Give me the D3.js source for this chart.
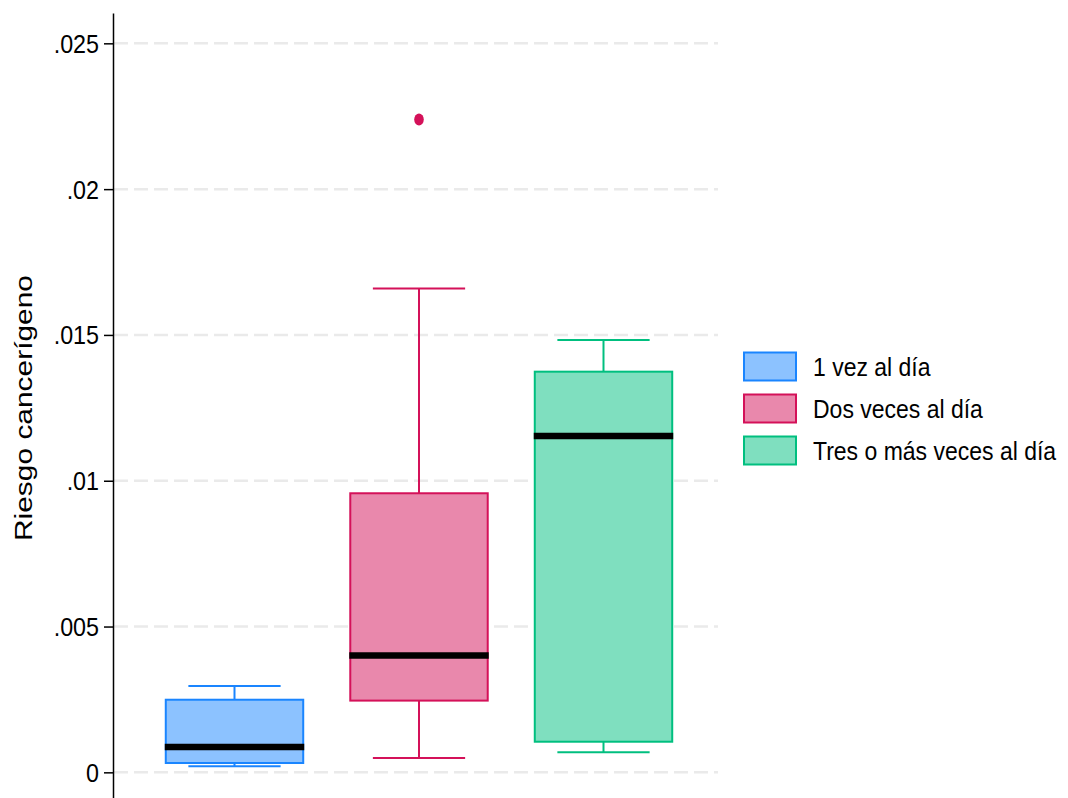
<!DOCTYPE html>
<html>
<head>
<meta charset="utf-8">
<script src="https://cdn.jsdelivr.net/npm/d3@7"></script>
<style>
  html, body { margin: 0; padding: 0; background: #fff; }
  svg { display: block; font-family: "Liberation Sans", Arial, Helvetica, sans-serif; }
</style>
</head>
<body>
<svg id="chart" width="1068" height="798"></svg>
<script>
// ---- data ----
const categories = ["1 vez al día", "Dos veces al día", "Tres o más veces al día"];
const whiskerLow  = [0.00021, 0.00049, 0.00069];
const q1          = [0.00032, 0.00246, 0.00105];
const medians     = [0.00087, 0.00401, 0.01153];
const q3          = [0.00249, 0.00957, 0.01374];
const whiskerHigh = [0.00296, 0.01659, 0.01483];
const outliers    = [[], [0.02239], []];
const yTicks      = [0, 0.005, 0.01, 0.015, 0.02, 0.025];
const yTickLabels = ["0", ".005", ".01", ".015", ".02", ".025"];
const yTitle = "Riesgo cancerígeno";
const strokeColors = ["#1A85FF", "#D41159", "#00BF7F"];
const fillColors   = ["#8CC2FF", "#E988AC", "#7FDFBF"];

// ---- layout ----
const svg = d3.select("#chart");
const axisX = 113;
const x = d3.scaleBand().domain(categories).range([142.25, 695.75]).padding(0);
const y = d3.scaleLinear().domain([-0.00088, 0.02604]).range([798, 13]);
const boxW = x.bandwidth() * 0.745;
const capW = x.bandwidth() * 0.5;

// gridlines
svg.append("g").selectAll("line").data(yTicks).join("line")
  .attr("x1", axisX + 1).attr("x2", 718)
  .attr("y1", d => y(d)).attr("y2", d => y(d))
  .attr("stroke", "#EAEAEA").attr("stroke-width", 2.5)
  .attr("stroke-dasharray", "14,6");

// y axis
const gAxis = svg.append("g").attr("transform", `translate(${axisX},0)`)
  .call(d3.axisLeft(y).tickValues(yTicks).tickFormat((d, i) => yTickLabels[i])
    .tickSize(9).tickPadding(5).tickSizeOuter(0));
gAxis.select(".domain").attr("stroke", "#000").attr("stroke-width", 1.5);
gAxis.selectAll(".tick line").attr("stroke", "#000").attr("stroke-width", 1.5);
gAxis.selectAll(".tick text").attr("font-size", 23.3).attr("fill", "#000")
  .attr("font-family", "'Liberation Sans', Arial, sans-serif").attr("dy", "0.36em")
  .attr("transform", "scale(1,1.08)");

// y title
svg.append("text")
  .attr("transform", "translate(31.5,408) rotate(-90)")
  .attr("text-anchor", "middle").attr("font-size", 23).attr("fill", "#000")
  .attr("textLength", 266).attr("lengthAdjust", "spacingAndGlyphs")
  .text(yTitle);

// boxes
const boxes = svg.append("g").selectAll("g").data(categories).join("g");
boxes.each(function (c, i) {
  const g = d3.select(this);
  const cx = x(c) + x.bandwidth() / 2;
  g.append("line").attr("x1", cx).attr("x2", cx)
    .attr("y1", y(q3[i])).attr("y2", y(whiskerHigh[i]))
    .attr("stroke", strokeColors[i]).attr("stroke-width", 2);
  g.append("line").attr("x1", cx).attr("x2", cx)
    .attr("y1", y(q1[i])).attr("y2", y(whiskerLow[i]))
    .attr("stroke", strokeColors[i]).attr("stroke-width", 2);
  [whiskerHigh[i], whiskerLow[i]].forEach(v => {
    g.append("line").attr("x1", cx - capW / 2).attr("x2", cx + capW / 2)
      .attr("y1", y(v)).attr("y2", y(v))
      .attr("stroke", strokeColors[i]).attr("stroke-width", 2);
  });
  g.append("rect").attr("x", cx - boxW / 2).attr("width", boxW)
    .attr("y", y(q3[i])).attr("height", y(q1[i]) - y(q3[i]))
    .attr("fill", fillColors[i]).attr("stroke", strokeColors[i]).attr("stroke-width", 2);
  g.append("line").attr("x1", cx - boxW / 2 - 1).attr("x2", cx + boxW / 2 + 1)
    .attr("y1", y(medians[i])).attr("y2", y(medians[i]))
    .attr("stroke", "#000").attr("stroke-width", 6.5);
  g.selectAll("ellipse").data(outliers[i]).join("ellipse")
    .attr("cx", cx).attr("cy", d => y(d)).attr("rx", 4.8).attr("ry", 6)
    .attr("fill", strokeColors[i]);
});

// legend
const legend = svg.append("g").selectAll("g").data(categories).join("g")
  .attr("transform", (d, i) => `translate(744,${352.5 + i * 42})`);
legend.append("rect").attr("width", 52).attr("height", 28)
  .attr("fill", (d, i) => fillColors[i]).attr("stroke", (d, i) => strokeColors[i])
  .attr("stroke-width", 2);
legend.append("text")
  .attr("transform", "translate(69,23) scale(1,1.15)")
  .attr("font-size", 23).attr("fill", "#000")
  .text(d => d);
</script>
</body>
</html>
